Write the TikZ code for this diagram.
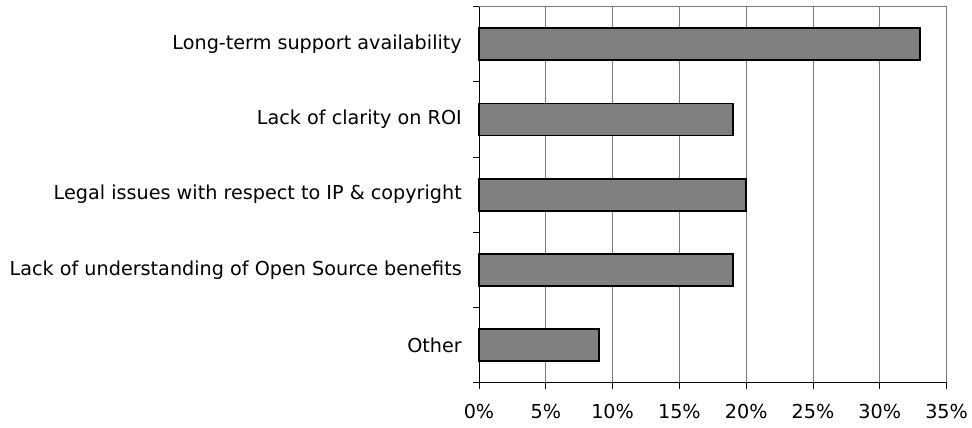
\documentclass[tikz,border=0pt]{standalone}
\usepackage{fontspec}
\setmainfont{DejaVu Sans}
\begin{document}
\begin{tikzpicture}[x=1pt,y=-1pt,
  grid/.style={draw=gray!95!black,line width=1pt},
  axisline/.style={draw=black,line width=1pt},
  bar/.style={draw=black,fill=gray,line width=1.6pt},
  cat/.style={anchor=east,font=\fontsize{19.2}{21}\selectfont,inner sep=0pt},
  pct/.style={anchor=center,font=\fontsize{19.2}{21}\selectfont,inner sep=0pt}]
\useasboundingbox (0,0) rectangle (972,428);
\def\xz{479}\def\u{13.36}\def\yt{6.7}\def\yb{382.7}\def\c{75.2}
% grid lines
\foreach \k in {1,...,7} {
  \draw[grid] ({\xz+\k*5*\u},\yt) -- ({\xz+\k*5*\u},\yb);
}
\draw[grid] (\xz,\yt) -- ({\xz+35*\u},\yt);
% bars
\foreach \v [count=\i from 0] in {33,19,20,19,9} {
  \draw[bar] (\xz,{\yt+\i*\c+\c/2-16}) rectangle ({\xz+\v*\u},{\yt+\i*\c+\c/2+16});
}
% axes
\draw[axisline] (\xz,\yt) -- (\xz,\yb);
\draw[axisline] (\xz,\yb) -- ({\xz+35*\u},\yb);
\foreach \i in {0,...,5} { \draw[axisline] ({\xz-6},{\yt+\i*\c}) -- (\xz,{\yt+\i*\c}); }
\foreach \k in {0,...,7} { \draw[axisline] ({\xz+\k*5*\u},\yb) -- ({\xz+\k*5*\u},{\yb+6}); }
% category labels
\node[cat] (l1) at (462,{\yt+0.5*\c}) {Long-term support availability};
\node[cat] (l2) at (462,{\yt+1.5*\c}) {Lack of clarity on ROI};
\node[cat] (l3) at (462,{\yt+2.5*\c}) {Legal issues with respect to IP \& copyright};
\node[cat] (l4) at (462,{\yt+3.5*\c}) {Lack of understanding of Open Source benefits};
\node[cat] (l5) at (462,{\yt+4.5*\c}) {Other};
% percent labels
\foreach \k in {0,...,7} {
  \pgfmathtruncatemacro\p{5*\k}
  \node[pct] (p\k) at ({\xz+\k*5*\u},412) {\p\%};
}
\end{tikzpicture}
\end{document}
